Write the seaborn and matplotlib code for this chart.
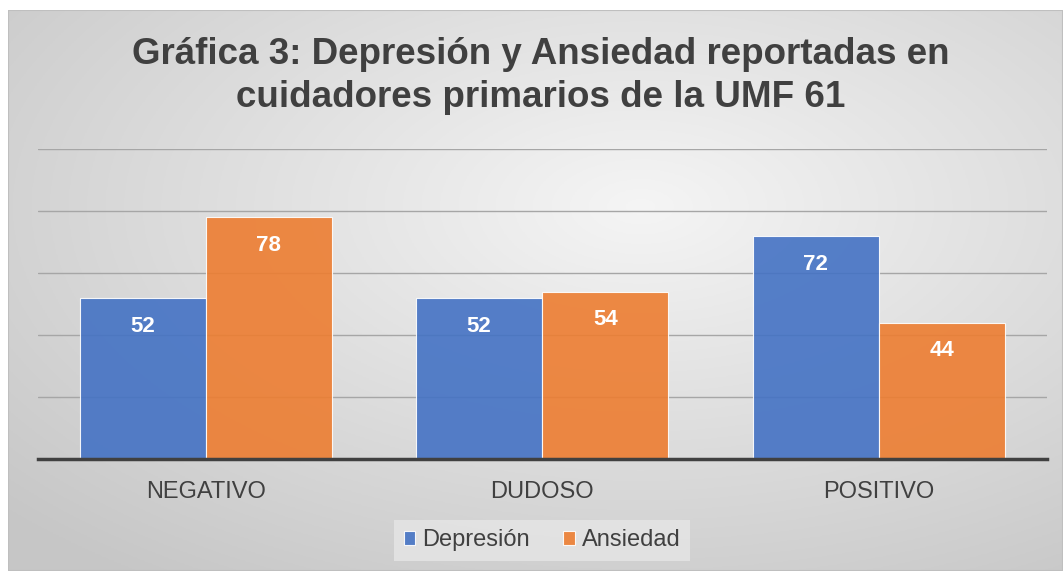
import numpy as np
import pandas as pd
import matplotlib
matplotlib.use('Agg')
import matplotlib.pyplot as plt
import seaborn as sns

categorias = ['NEGATIVO', 'DUDOSO', 'POSITIVO']
depresion = [52, 52, 72]
ansiedad = [78, 54, 44]
series = ['Depresión', 'Ansiedad']
colores = ['#4472c4', '#ed7d31']

df = pd.DataFrame({
    'categoria': categorias * 2,
    'serie': [series[0]] * 3 + [series[1]] * 3,
    'valor': depresion + ansiedad,
})

sns.set_theme(style='white')
plt.rcParams['font.family'] = ['Liberation Sans', 'DejaVu Sans']

fig = plt.figure(figsize=(10.63, 5.71), dpi=100)

# fondo degradado del area del grafico
bg = fig.add_axes([8 / 1063, 0, 1 - 8 / 1063, 1 - 10 / 571], zorder=0)
yy, xx = np.mgrid[0:1:200j, 0:1:400j]
r = np.sqrt(((xx - 0.6) / 0.9) ** 2 + ((yy - 0.35) / 0.9) ** 2)
g = np.clip(0.96 - 0.2 * r, 0.78, 0.96)
bg.imshow(np.dstack([g, g, g]), aspect='auto', extent=[0, 1, 0, 1])
bg.set_axis_off()
bg.add_patch(plt.Rectangle((0, 0), 1, 1, transform=bg.transAxes, fill=False,
                           edgecolor='#bfbfbf', linewidth=1.5))

ax = fig.add_axes([37.5 / 1063, 1 - 459 / 571, 1009.5 / 1063, 310 / 571], zorder=1)
ax.patch.set_alpha(0)
sns.barplot(data=df, x='categoria', y='valor', hue='serie', palette=colores,
            width=0.75, alpha=0.9, edgecolor='white', linewidth=0.8,
            saturation=1, ax=ax, legend=True)
ax.set_ylim(0, 100)
ax.set_yticks(np.arange(0, 101, 20))
ax.yaxis.grid(True, color='#a6a6a6', linewidth=1)
ax.set_axisbelow(True)
ax.tick_params(axis='y', left=False, labelleft=False)
ax.tick_params(axis='x', bottom=False, labelsize=17, labelcolor='#404040', pad=10)
for s in ['top', 'right', 'left']:
    ax.spines[s].set_visible(False)
ax.spines['bottom'].set_color('#404040')
ax.spines['bottom'].set_linewidth(2.5)
ax.set_xlabel('')
ax.set_ylabel('')

for cont in ax.containers:
    ax.bar_label(cont, label_type='edge', padding=-28, color='white',
                 fontsize=16, fontweight='bold')

leg = ax.legend(loc='center', bbox_to_anchor=(0.5, -0.262), ncol=2, frameon=True,
                fontsize=17, handlelength=0.5, handleheight=0.5, handletextpad=0.3,
                columnspacing=1.4, borderpad=0.4, fancybox=False)
leg.get_frame().set_facecolor('#e6e6e6')
leg.get_frame().set_edgecolor('none')
for t in leg.get_texts():
    t.set_color('#404040')

fig.text(0.509, 1 - 76 / 571,
         'Gráfica 3: Depresión y Ansiedad reportadas en\ncuidadores primarios de la UMF 61',
         ha='center', va='center', fontsize=26.5, fontweight='bold', color='#404040',
         linespacing=1.3)

fig.savefig('out.png', dpi=100)
